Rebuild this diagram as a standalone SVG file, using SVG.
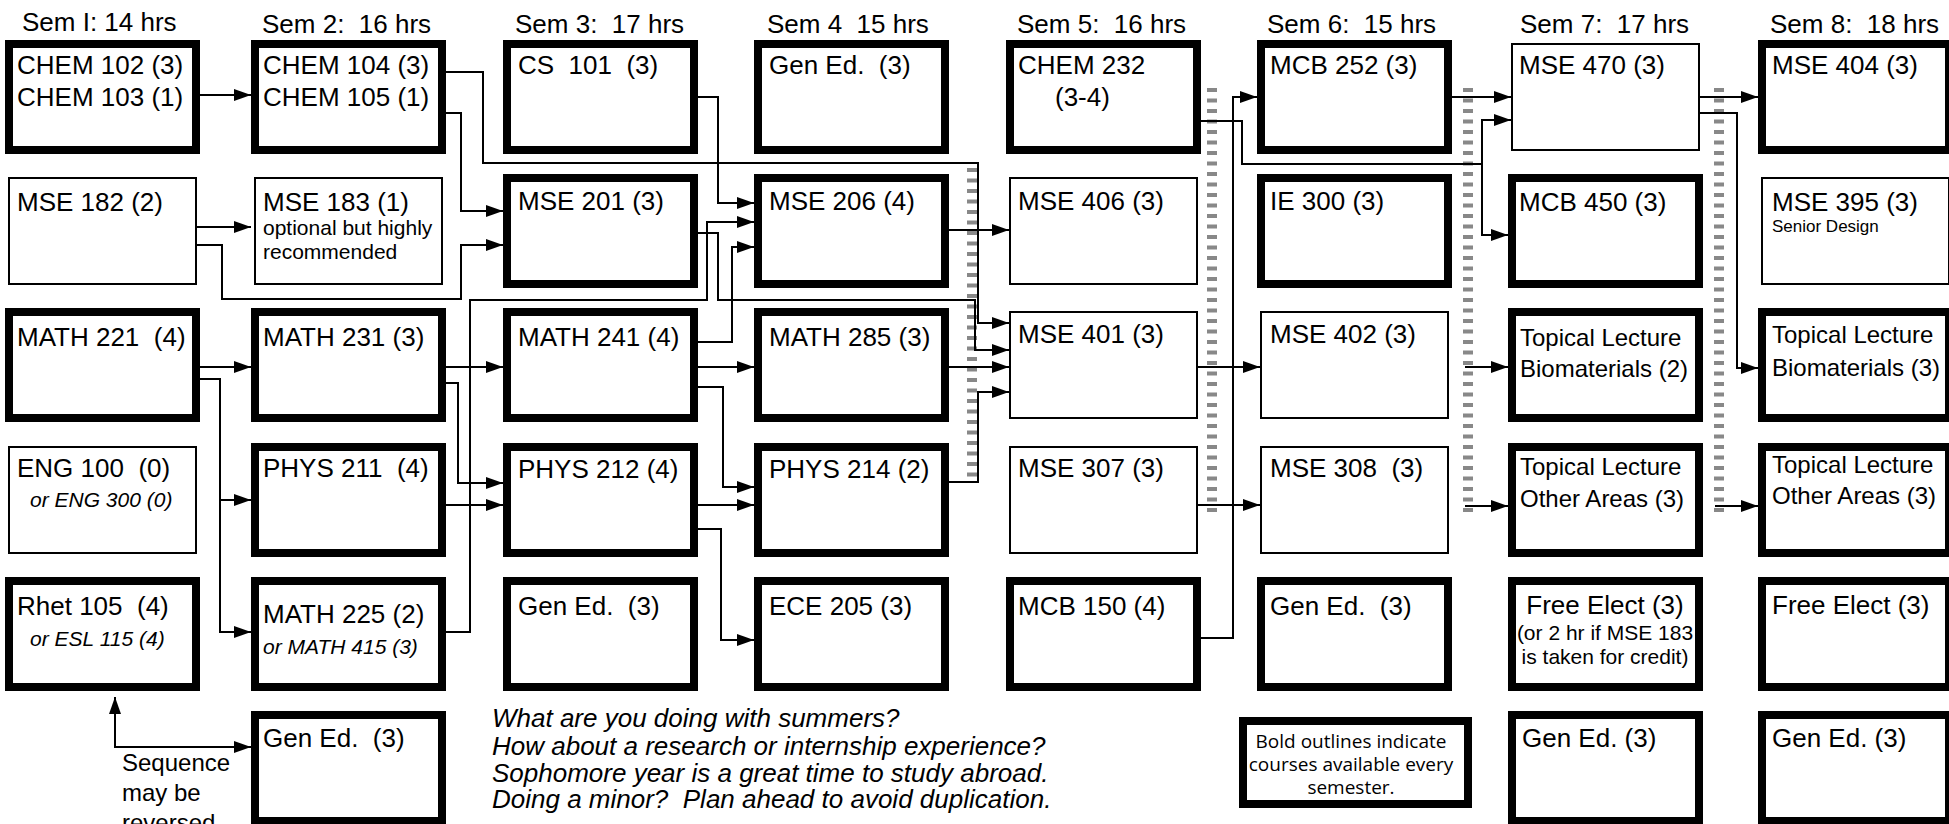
<svg xmlns="http://www.w3.org/2000/svg" width="1949" height="824" viewBox="0 0 1949 824">
<defs>
<style>
.tk{fill:#fff;stroke:#000;stroke-width:8}
.tn{fill:#fff;stroke:#000;stroke-width:2}
text{font-family:"Liberation Sans",Arial,sans-serif;font-size:26px;fill:#000;white-space:pre}
.sm{font-size:21px}
.md{font-size:24px}
.xs{font-size:17px}
.it{font-style:italic}
.lg{font-family:"Open Sans","Noto Sans",sans-serif;font-size:19px}
#connectors path{fill:none;stroke:#000;stroke-width:2;marker-end:url(#ah)}
.bar{fill:none;stroke:#888;stroke-width:10;stroke-dasharray:4 6.5}
</style>
<marker id="ah" markerUnits="userSpaceOnUse" markerWidth="18" markerHeight="12" refX="17" refY="6" orient="auto-start-reverse"><path d="M0,0 L17,6 L0,12 z" fill="#000"/></marker>
</defs>
<rect width="1949" height="824" fill="#fff"/>

<g id="headers">
<text x="22" y="31">Sem I: 14 hrs</text>
<text x="262" y="33">Sem 2:  16 hrs</text>
<text x="515" y="33">Sem 3:  17 hrs</text>
<text x="767" y="33">Sem 4  15 hrs</text>
<text x="1017" y="33">Sem 5:  16 hrs</text>
<text x="1267" y="33">Sem 6:  15 hrs</text>
<text x="1520" y="33">Sem 7:  17 hrs</text>
<text x="1770" y="33">Sem 8:  18 hrs</text>
</g>

<g id="bars">
<line class="bar" x1="972" y1="168" x2="972" y2="480"/>
<line class="bar" x1="1212" y1="88" x2="1212" y2="512"/>
<line class="bar" x1="1468" y1="88" x2="1468" y2="512"/>
<line class="bar" x1="1719" y1="88" x2="1719" y2="512"/>
</g>

<g id="connectors">
<path d="M199,95 H251"/>
<path d="M446,72 H483 V163 H978 V323 H1009"/>
<path d="M446,113 H461 V211 H503"/>
<path d="M197,227 H251"/>
<path d="M197,245 H222 V299 H461 V245 H503"/>
<path d="M698,97 H718 V203 H754"/>
<path d="M446,632 H470 V300 H707 V222 H754"/>
<path d="M698,342 H732 V247 H754"/>
<path d="M698,233 H718 V300 H975 V350 H1009"/>
<path d="M948,230 H1009"/>
<path d="M199,367 H251"/>
<path d="M199,379 H220 V632 H251"/>
<path d="M220,500 H251"/>
<path d="M446,367 H503"/>
<path d="M446,383 H458 V483 H503"/>
<path d="M446,505 H503"/>
<path d="M698,367 H754"/>
<path d="M698,387 H723 V487 H754"/>
<path d="M698,505 H754"/>
<path d="M698,529 H721 V640 H754"/>
<path d="M948,367 H1009"/>
<path d="M948,482 H978 V392 H1009"/>
<path d="M1197,367 H1260"/>
<path d="M1197,505 H1260"/>
<path d="M1200,638 H1233 V97 H1257"/>
<path d="M1200,121 H1242 V164 H1482 V120 H1511"/>
<path d="M1482,164 V235 H1508"/>
<path d="M1452,97 H1511"/>
<path d="M1699,97 H1758"/>
<path d="M1699,113 H1737 V368 H1758"/>
<path d="M1465,367 H1508"/>
<path d="M1465,506 H1508"/>
<path d="M1715,506 H1758"/>
<path d="M115,697 V747 H251" style="marker-start:url(#ah)"/>
</g>

<!-- Row 0 -->
<g id="chem102"><rect class="tk" x="9" y="44" width="187" height="106"/><text x="17" y="74">CHEM 102 (3)</text><text x="17" y="106">CHEM 103 (1)</text></g>
<g id="chem104"><rect class="tk" x="255" y="44" width="187" height="106"/><text x="263" y="74">CHEM 104 (3)</text><text x="263" y="106">CHEM 105 (1)</text></g>
<g id="cs101"><rect class="tk" x="507" y="44" width="187" height="106"/><text x="518" y="74">CS  101  (3)</text></g>
<g id="gened4"><rect class="tk" x="758" y="44" width="187" height="106"/><text x="769" y="74">Gen Ed.  (3)</text></g>
<g id="chem232"><rect class="tk" x="1010" y="44" width="187" height="106"/><text x="1018" y="74">CHEM 232</text><text x="1055" y="106">(3-4)</text></g>
<g id="mcb252"><rect class="tk" x="1261" y="44" width="187" height="106"/><text x="1270" y="74">MCB 252 (3)</text></g>
<g id="mse470"><rect class="tn" x="1512" y="44" width="187" height="106"/><text x="1519" y="74">MSE 470 (3)</text></g>
<g id="mse404"><rect class="tk" x="1762" y="44" width="187" height="106"/><text x="1772" y="74">MSE 404 (3)</text></g>

<!-- Row 1 -->
<g id="mse182"><rect class="tn" x="9" y="178" width="187" height="106"/><text x="17" y="211">MSE 182 (2)</text></g>
<g id="mse183"><rect class="tn" x="255" y="178" width="187" height="106"/><text x="263" y="211">MSE 183 (1)</text><text class="sm" x="263" y="235">optional but highly</text><text class="sm" x="263" y="259">recommended</text></g>
<g id="mse201"><rect class="tk" x="507" y="178" width="187" height="106"/><text x="518" y="210">MSE 201 (3)</text></g>
<g id="mse206"><rect class="tk" x="758" y="178" width="187" height="106"/><text x="769" y="210">MSE 206 (4)</text></g>
<g id="mse406"><rect class="tn" x="1010" y="178" width="187" height="106"/><text x="1018" y="210">MSE 406 (3)</text></g>
<g id="ie300"><rect class="tk" x="1261" y="178" width="187" height="106"/><text x="1270" y="210">IE 300 (3)</text></g>
<g id="mcb450"><rect class="tk" x="1512" y="178" width="187" height="106"/><text x="1519" y="211">MCB 450 (3)</text></g>
<g id="mse395"><rect class="tn" x="1762" y="178" width="187" height="106"/><text x="1772" y="211">MSE 395 (3)</text><text class="xs" x="1772" y="232">Senior Design</text></g>

<!-- Row 2 -->
<g id="math221"><rect class="tk" x="9" y="312" width="187" height="106"/><text x="17" y="346">MATH 221  (4)</text></g>
<g id="math231"><rect class="tk" x="255" y="312" width="187" height="106"/><text x="263" y="346">MATH 231 (3)</text></g>
<g id="math241"><rect class="tk" x="507" y="312" width="187" height="106"/><text x="518" y="346">MATH 241 (4)</text></g>
<g id="math285"><rect class="tk" x="758" y="312" width="187" height="106"/><text x="769" y="346">MATH 285 (3)</text></g>
<g id="mse401"><rect class="tn" x="1010" y="312" width="187" height="106"/><text x="1018" y="343">MSE 401 (3)</text></g>
<g id="mse402"><rect class="tn" x="1261" y="312" width="187" height="106"/><text x="1270" y="343">MSE 402 (3)</text></g>
<g id="topbio7"><rect class="tk" x="1512" y="312" width="187" height="106"/><text class="md" x="1520" y="346">Topical Lecture</text><text class="md" x="1520" y="377">Biomaterials (2)</text></g>
<g id="topbio8"><rect class="tk" x="1762" y="312" width="187" height="106"/><text class="md" x="1772" y="343">Topical Lecture</text><text class="md" x="1772" y="376">Biomaterials (3)</text></g>

<!-- Row 3 -->
<g id="eng100"><rect class="tn" x="9" y="447" width="187" height="106"/><text x="17" y="477">ENG 100  (0)</text><text class="sm it" x="30" y="507">or ENG 300 (0)</text></g>
<g id="phys211"><rect class="tk" x="255" y="447" width="187" height="106"/><text x="263" y="477">PHYS 211  (4)</text></g>
<g id="phys212"><rect class="tk" x="507" y="447" width="187" height="106"/><text x="518" y="478">PHYS 212 (4)</text></g>
<g id="phys214"><rect class="tk" x="758" y="447" width="187" height="106"/><text x="769" y="478">PHYS 214 (2)</text></g>
<g id="mse307"><rect class="tn" x="1010" y="447" width="187" height="106"/><text x="1018" y="477">MSE 307 (3)</text></g>
<g id="mse308"><rect class="tn" x="1261" y="447" width="187" height="106"/><text x="1270" y="477">MSE 308  (3)</text></g>
<g id="topoth7"><rect class="tk" x="1512" y="447" width="187" height="106"/><text class="md" x="1520" y="475">Topical Lecture</text><text class="md" x="1520" y="507">Other Areas (3)</text></g>
<g id="topoth8"><rect class="tk" x="1762" y="447" width="187" height="106"/><text class="md" x="1772" y="473">Topical Lecture</text><text class="md" x="1772" y="504">Other Areas (3)</text></g>

<!-- Row 4 -->
<g id="rhet105"><rect class="tk" x="9" y="581" width="187" height="106"/><text x="17" y="615">Rhet 105  (4)</text><text class="sm it" x="30" y="646">or ESL 115 (4)</text></g>
<g id="math225"><rect class="tk" x="255" y="581" width="187" height="106"/><text x="263" y="623">MATH 225 (2)</text><text class="sm it" x="263" y="654">or MATH 415 (3)</text></g>
<g id="gened3"><rect class="tk" x="507" y="581" width="187" height="106"/><text x="518" y="615">Gen Ed.  (3)</text></g>
<g id="ece205"><rect class="tk" x="758" y="581" width="187" height="106"/><text x="769" y="615">ECE 205 (3)</text></g>
<g id="mcb150"><rect class="tk" x="1010" y="581" width="187" height="106"/><text x="1018" y="615">MCB 150 (4)</text></g>
<g id="gened6"><rect class="tk" x="1261" y="581" width="187" height="106"/><text x="1270" y="615">Gen Ed.  (3)</text></g>
<g id="free7"><rect class="tk" x="1512" y="581" width="187" height="106"/><text x="1605" y="614" text-anchor="middle">Free Elect (3)</text><text class="sm" x="1605" y="640" text-anchor="middle">(or 2 hr if MSE 183</text><text class="sm" x="1605" y="664" text-anchor="middle">is taken for credit)</text></g>
<g id="free8"><rect class="tk" x="1762" y="581" width="187" height="106"/><text x="1772" y="614">Free Elect (3)</text></g>

<!-- Row 5 -->
<g id="gened2"><rect class="tk" x="255" y="715" width="187" height="106"/><text x="263" y="747">Gen Ed.  (3)</text></g>
<g id="gened7"><rect class="tk" x="1512" y="715" width="187" height="106"/><text x="1522" y="747">Gen Ed. (3)</text></g>
<g id="gened8"><rect class="tk" x="1762" y="715" width="187" height="106"/><text x="1772" y="747">Gen Ed. (3)</text></g>

<g id="sequence-note">
<text class="md" x="122" y="771">Sequence</text>
<text class="md" x="122" y="801">may be</text>
<text class="md" x="122" y="831">reversed</text>
</g>

<g id="summer-note">
<text class="it" x="492" y="727">What are you doing with summers?</text>
<text class="it" x="492" y="755">How about a research or internship experience?</text>
<text class="it" x="492" y="782">Sophomore year is a great time to study abroad.</text>
<text class="it" x="492" y="808">Doing a minor?  Plan ahead to avoid duplication.</text>
</g>

<g id="legend">
<rect class="tk" x="1243" y="721" width="225" height="83"/>
<text class="lg" x="1351" y="748" text-anchor="middle">Bold outlines indicate</text>
<text class="lg" x="1351" y="771" text-anchor="middle">courses available every</text>
<text class="lg" x="1351" y="794" text-anchor="middle">semester.</text>
</g>
</svg>
